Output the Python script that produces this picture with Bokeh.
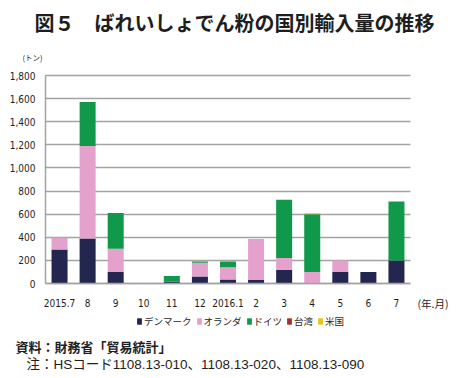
from bokeh.plotting import figure
from bokeh.models import (Range1d, FixedTicker, NumeralTickFormatter,
                          Label, Legend, LegendItem)
from bokeh.embed import file_html
from bokeh.resources import INLINE

months = ["2015.7", "8", "9", "10", "11", "12", "2016.1", "2", "3", "4", "5", "6", "7"]
denmark = [295, 390, 100, 0, 15, 60, 35, 30, 120, 0, 100, 100, 200]
netherlands = [100, 800, 200, 0, 0, 120, 105, 355, 100, 100, 100, 0, 0]
germany = [0, 380, 310, 0, 50, 10, 50, 0, 505, 500, 0, 0, 510]
taiwan = [0, 0, 0, 0, 0, 0, 0, 0, 0, 0, 0, 0, 0]
usa = [0, 0, 0, 0, 0, 0, 0, 0, 0, 8, 0, 0, 0]
series_names = ["デンマーク", "オランダ", "ドイツ", "台湾", "米国"]
colors = ["#23264f", "#e3a1cb", "#10994a", "#a3302f", "#eec21c"]
y_ticks = [0, 200, 400, 600, 800, 1000, 1200, 1400, 1600, 1800]

NARROW = "'Liberation Sans Narrow', 'Arial Narrow', 'DejaVu Sans Condensed', sans-serif"
JP = "Noto Sans CJK JP"
LATIN_JP = "'Liberation Sans', 'Noto Sans CJK JP', sans-serif"
TXT = "#1e1e1e"
GRID = "#a3a3a3"

W, H = 466, 376
# frame covers the whole canvas; axes are pinned inside it
plot_left, plot_right, plot_top, plot_bottom = 45, 410, 75, 283
n = len(months)
ux = (plot_right - plot_left) / n
uy = (plot_bottom - plot_top) / y_ticks[-1]
x_start = -0.5 - plot_left / ux
x_end = n - 0.5 + (W - plot_right) / ux
y_start = -(H - plot_bottom) / uy
y_end = y_ticks[-1] + plot_top / uy

xs = list(range(n))
p = figure(x_range=Range1d(x_start, x_end), y_range=Range1d(y_start, y_end),
           width=W, height=H, output_backend="svg", toolbar_location=None,
           min_border=0)

data = dict(x=xs, dk=denmark, nl=netherlands, de=germany, tw=taiwan, us=usa)
keys = ["dk", "nl", "de", "tw", "us"]
renderers = p.vbar_stack(keys, x="x", width=0.57, color=colors, line_color=None, source=data)

p.outline_line_color = None
p.grid.visible = False

xa, ya = p.xaxis[0], p.yaxis[0]
ya.fixed_location = -0.5
ya.bounds = (0, y_ticks[-1])
ya.ticker = FixedTicker(ticks=y_ticks)
ya.formatter = NumeralTickFormatter(format="0,0")
ya.major_tick_in = plot_right - plot_left
ya.major_tick_out = 0
ya.major_tick_line_color = GRID
ya.major_tick_line_width = 1.5
ya.major_label_standoff = 10
ya.level = "underlay"

xa.fixed_location = 0
xa.bounds = (-0.5, n - 0.5)
xa.ticker = FixedTicker(ticks=xs)
xa.major_label_overrides = {i: m for i, m in zip(xs, months)}
xa.major_tick_line_color = None
xa.major_tick_in = 0
xa.major_tick_out = 0
xa.major_label_standoff = 15

for ax in (xa, ya):
    ax.axis_line_color = GRID
    ax.axis_line_width = 1.5
    ax.minor_tick_line_color = None
    ax.major_label_text_font = NARROW
    ax.major_label_text_font_size = "10px"
    ax.major_label_text_color = TXT

items = [LegendItem(label=nm, renderers=[r]) for nm, r in zip(series_names, renderers)]
legend = Legend(items=items, orientation="horizontal", location=(136, 48),
                glyph_width=6, glyph_height=8, label_standoff=2, spacing=4,
                padding=0, margin=0, label_width=0, label_height=10,
                label_text_font=JP, label_text_font_size="9.5px", label_text_color=TXT,
                border_line_color=None, background_fill_alpha=0)
p.add_layout(legend, "center")

def lab(text, x, y, size, bold=False, font=JP):
    p.add_layout(Label(x=x, y=H - y, x_units="screen", y_units="screen", text=text,
                       text_font=font, text_font_size=size, text_color=TXT,
                       text_font_style="bold" if bold else "normal",
                       text_baseline="middle", text_align="left"))

lab("図５　ばれいしょでん粉の国別輸入量の推移", 34, 22, "20px", bold=True)
lab("(トン)", 22, 57, "7.5px")
lab("(年.月)", 417, 303, "10.5px")
lab("資料：財務省「貿易統計」", 15, 346, "13px", bold=True)
lab("注：HSコード1108.13-010、1108.13-020、1108.13-090", 26, 364, "13.5px", font=LATIN_JP)

open("out.html", "w").write(file_html(p, INLINE))
